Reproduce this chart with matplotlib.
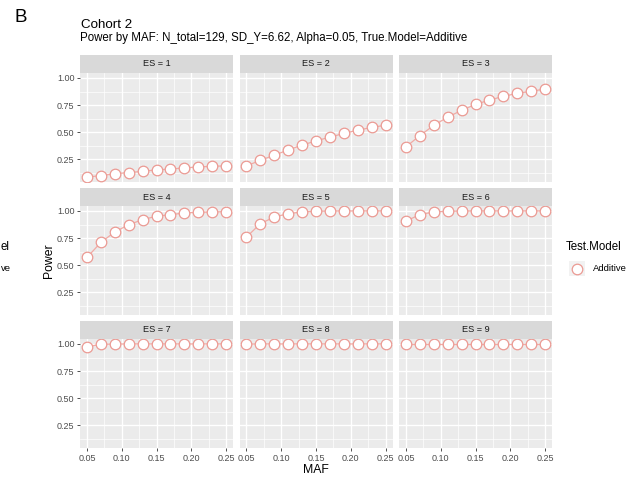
import matplotlib

matplotlib.use("Agg")
import matplotlib.pyplot as plt
import numpy as np

plt.rcParams["font.family"] = ["Liberation Sans", "DejaVu Sans"]

W, H = 637, 478

maf = [0.05, 0.07, 0.09, 0.11, 0.13, 0.15, 0.17, 0.19, 0.21, 0.23, 0.25]
es_labels = ["ES = 1", "ES = 2", "ES = 3", "ES = 4", "ES = 5", "ES = 6", "ES = 7", "ES = 8", "ES = 9"]
power_es1 = [0.086, 0.099, 0.117, 0.127, 0.139, 0.152, 0.160, 0.170, 0.179, 0.185, 0.189]
power_es2 = [0.188, 0.241, 0.287, 0.336, 0.380, 0.420, 0.454, 0.488, 0.519, 0.543, 0.565]
power_es3 = [0.364, 0.469, 0.562, 0.639, 0.701, 0.756, 0.796, 0.830, 0.858, 0.877, 0.898]
power_es4 = [0.571, 0.710, 0.806, 0.873, 0.920, 0.951, 0.966, 0.981, 0.988, 0.990, 0.994]
power_es5 = [0.759, 0.883, 0.944, 0.975, 0.991, 0.997, 0.999, 1.0, 1.0, 1.0, 1.0]
power_es6 = [0.907, 0.966, 0.991, 0.997, 0.999, 1.0, 1.0, 1.0, 1.0, 1.0, 1.0]
power_es7 = [0.975, 0.996, 0.999, 1.0, 1.0, 1.0, 1.0, 1.0, 1.0, 1.0, 1.0]
power_es8 = [0.998, 1.0, 1.0, 1.0, 1.0, 1.0, 1.0, 1.0, 1.0, 1.0, 1.0]
power_es9 = [1.0, 1.0, 1.0, 1.0, 1.0, 1.0, 1.0, 1.0, 1.0, 1.0, 1.0]
powers = [power_es1, power_es2, power_es3, power_es4, power_es5,
          power_es6, power_es7, power_es8, power_es9]

x_ticks = [0.05, 0.10, 0.15, 0.20, 0.25]
x_tick_labels = ["0.05", "0.10", "0.15", "0.20", "0.25"]
y_ticks = [0.25, 0.50, 0.75, 1.00]
y_tick_labels = ["0.25", "0.50", "0.75", "1.00"]

LINE_COL = "#F2ABA5"
EDGE_COL = "#EB9A93"
PANEL_BG = "#EBEBEB"
STRIP_BG = "#D9D9D9"


def px_rect(left, top, width, height):
    return [left / W, 1 - (top + height) / H, width / W, height / H]


fig = plt.figure(figsize=(W / 100, H / 100), dpi=100)

col_left = [80, 239.5, 399]
row_top = [73, 206, 339]
pw, ph, sh = 153, 109, 18

all_y = np.concatenate([np.array(p) for p in powers])
ypad = (all_y.max() - all_y.min()) * 0.05
ylim = (all_y.min() - ypad, all_y.max() + ypad)
xpad = (max(maf) - min(maf)) * 0.05
xlim = (min(maf) - xpad, max(maf) + xpad)

for i in range(9):
    r, c = divmod(i, 3)
    ax = fig.add_axes(px_rect(col_left[c], row_top[r], pw, ph))
    ax.set_facecolor(PANEL_BG)
    for s in ax.spines.values():
        s.set_visible(False)
    ax.set_xlim(*xlim)
    ax.set_ylim(*ylim)
    ax.set_xticks(x_ticks)
    ax.set_yticks(y_ticks)
    ax.set_xticks([0.075, 0.125, 0.175, 0.225], minor=True)
    ax.set_yticks([0.125, 0.375, 0.625, 0.875], minor=True)
    ax.grid(True, which="major", color="white", linewidth=1.0)
    ax.grid(True, which="minor", color="white", linewidth=0.5)
    ax.set_axisbelow(True)
    ax.tick_params(which="minor", length=0)
    ax.tick_params(which="major", length=2.5, width=0.6, color="#333333",
                   labelsize=6.5, labelcolor="#4D4D4D", pad=1.5)
    if c == 0:
        ax.set_yticklabels(y_tick_labels)
    else:
        ax.tick_params(axis="y", length=0, labelleft=False)
    if r == 2:
        ax.set_xticklabels(x_tick_labels)
    else:
        ax.tick_params(axis="x", length=0, labelbottom=False)

    ax.plot(maf, powers[i], color=LINE_COL, linewidth=0.9, zorder=2)
    ax.plot(maf, powers[i], linestyle="none", marker="o", markersize=7.6,
            markerfacecolor="white", markeredgecolor=EDGE_COL,
            markeredgewidth=0.9, zorder=3)

    sax = fig.add_axes(px_rect(col_left[c], row_top[r] - sh, pw, sh))
    sax.set_facecolor(STRIP_BG)
    sax.set_xticks([])
    sax.set_yticks([])
    for s in sax.spines.values():
        s.set_visible(False)
    sax.text(0.5, 0.5, es_labels[i], ha="center", va="center",
             fontsize=6.6, color="#1A1A1A", transform=sax.transAxes)

# titles and axis labels
fig.text(15 / W, 1 - 17 / H, "B", fontsize=13.5, ha="left", va="center", color="black")
fig.text(81 / W, 1 - 25 / H, "Cohort 2", fontsize=9.6, ha="left", va="center")
fig.text(80.5 / W, 1 - 38 / H,
         "Power by MAF: N_total=129, SD_Y=6.62, Alpha=0.05, True.Model=Additive",
         fontsize=8.3, ha="left", va="center")
fig.text(49 / W, 1 - 261 / H, "Power", fontsize=8.8, rotation=90,
         ha="center", va="center")
fig.text(316 / W, 1 - 470 / H, "MAF", fontsize=8.8, ha="center", va="center")

# legend
fig.text(566 / W, 1 - 247 / H, "Test.Model", fontsize=8.3, ha="left", va="center")
kax = fig.add_axes(px_rect(569, 261, 16, 15))
kax.set_facecolor("#F2F2F2")
kax.set_xticks([])
kax.set_yticks([])
for s in kax.spines.values():
    s.set_visible(False)
kax.set_xlim(0, 1)
kax.set_ylim(0, 1)
kax.plot([0.5], [0.5], marker="o", markersize=7.6, markerfacecolor="white",
         markeredgecolor=EDGE_COL, markeredgewidth=0.9)
fig.text(593 / W, 1 - 268.5 / H, "Additive", fontsize=6.8, ha="left", va="center")

# remains of a neighbouring legend visible at the left edge
fig.text(0.5 / W, 1 - 247 / H, "el", fontsize=8.3, ha="left", va="center")
fig.text(0.5 / W, 1 - 268.5 / H, "ve", fontsize=6.8, ha="left", va="center")

fig.savefig("out.png", dpi=100)
plt.close(fig)
